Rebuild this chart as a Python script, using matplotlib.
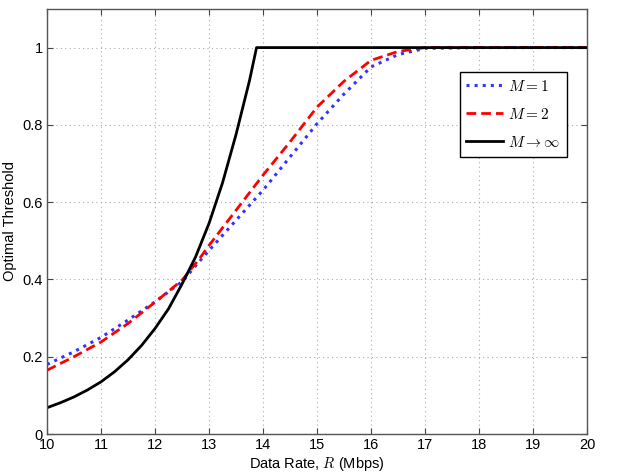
import matplotlib.pyplot as plt

# Data
rate_smooth = [10, 10.5, 11, 11.5, 12, 12.5, 12.83, 13, 13.5, 14, 14.5, 15, 15.5, 16, 16.5, 17, 18, 19, 20]
thr_m1 = [0.180, 0.213, 0.250, 0.295, 0.342, 0.394, 0.448, 0.475, 0.553, 0.631, 0.717, 0.803, 0.880, 0.950, 0.982, 0.998, 1.0, 1.0, 1.0]
thr_m2 = [0.165, 0.200, 0.238, 0.286, 0.341, 0.398, 0.455, 0.488, 0.579, 0.670, 0.756, 0.846, 0.913, 0.967, 0.990, 1.0, 1.0, 1.0, 1.0]

rate_inf = [10, 10.25, 10.5, 10.75, 11, 11.25, 11.5, 11.75, 12, 12.25, 12.5, 12.75, 13, 13.25, 13.5, 13.75, 13.88, 14, 15, 16, 17, 18, 19, 20]
thr_inf = [0.068, 0.081, 0.096, 0.114, 0.135, 0.161, 0.192, 0.229, 0.273, 0.324, 0.388, 0.458, 0.545, 0.650, 0.775, 0.915, 1.0,
           1.0, 1.0, 1.0, 1.0, 1.0, 1.0, 1.0]

plt.rcParams['font.family'] = ['Liberation Sans', 'DejaVu Sans']
plt.rcParams['mathtext.fontset'] = 'cm'

fig = plt.figure(figsize=(6.23, 4.76), dpi=100)
ax = fig.add_axes([0.0754, 0.0882, 0.867, 0.893])

ax.plot(rate_smooth, thr_m1, linestyle=':', color='#3333ff', lw=2.2, label='$M=1$')
ax.plot(rate_smooth, thr_m2, linestyle='--', color='red', lw=2.0, dashes=(3.5, 1.8), label='$M=2$')
ax.plot(rate_inf, thr_inf, linestyle='-', color='black', lw=2.0, label=r'$M\rightarrow\infty$')

ax.set_xlim(10, 20)
ax.set_ylim(0, 1.1)
ax.set_xticks(range(10, 21))
ax.set_yticks([0, 0.2, 0.4, 0.6, 0.8, 1.0])
ax.set_yticklabels(['0', '0.2', '0.4', '0.6', '0.8', '1'])
ax.tick_params(direction='in', top=True, right=True, labelsize=10.5, length=4, color='#444444', pad=3)
for sp in ax.spines.values():
    sp.set_color('#555555')
    sp.set_linewidth(1.0)
ax.grid(True, linestyle=(0, (1, 3)), color='#aaaaaa', linewidth=0.8)

ax.set_xlabel('Data Rate, $R$ (Mbps)', fontsize=10.5, labelpad=2)
ax.set_ylabel('Optimal Threshold', fontsize=10.5, labelpad=4)

leg = ax.legend(loc='upper right', bbox_to_anchor=(0.963, 0.852), borderaxespad=0, fontsize=11,
                fancybox=False, framealpha=1, edgecolor='black', handlelength=2.4,
                labelspacing=0.85, borderpad=0.45, handletextpad=0.35)
leg.get_frame().set_linewidth(1.0)

fig.savefig('out.png', dpi=100)
